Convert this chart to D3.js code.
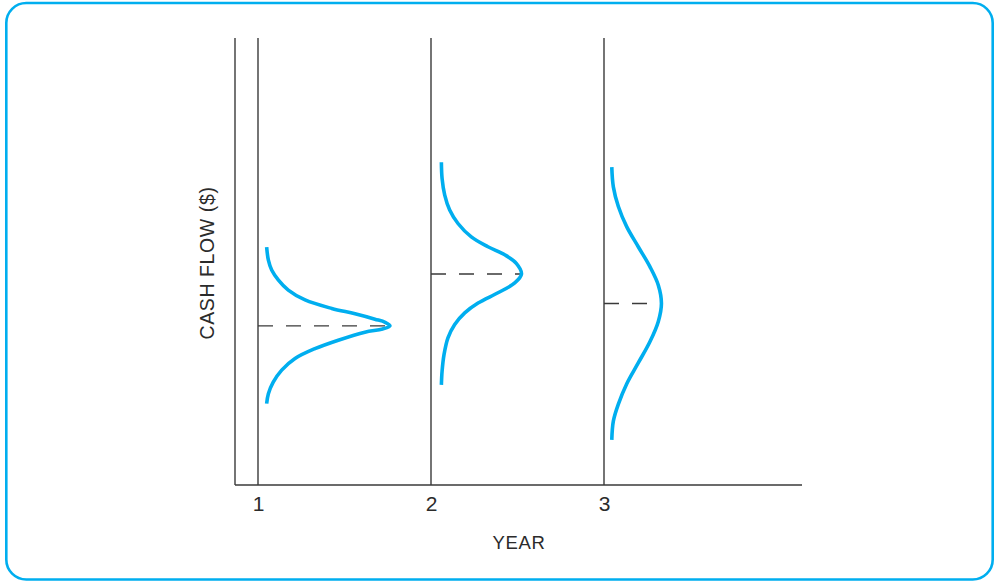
<!DOCTYPE html>
<html>
<head>
<meta charset="utf-8">
<script src="https://cdn.jsdelivr.net/npm/d3@7"></script>
<style>
  html, body { margin: 0; padding: 0; background: #fff; }
  svg { display: block; }
  text { font-family: "Liberation Sans", Arial, sans-serif; fill: #2b2b2b; }
</style>
</head>
<body>
<svg id="chart" width="996" height="583"></svg>
<script>
// ---- data ----
const years = [1, 2, 3];
const yearLabels = ["1", "2", "3"];
const xTitle = "YEAR";
const yTitle = "CASH FLOW ($)";
// expected cash flow for each year (cash-flow axis units, 0-100)
const means = [35.6, 47.2, 40.6];

// distribution curves: cash-flow value and probability density
// (density expressed as a fraction of one year spacing)
const flow1 = [53.2, 50.3, 48.1, 45.9, 43.6, 41.4, 39.5, 38.3, 37.1, 36.4, 35.6, 34.9, 34.2, 32.4, 30.5, 28.3, 25.7, 23.0, 20.4, 18.2];
const dens1 = [0.050, 0.060, 0.079, 0.117, 0.175, 0.272, 0.426, 0.561, 0.676, 0.735, 0.763, 0.720, 0.618, 0.464, 0.329, 0.214, 0.137, 0.088, 0.060, 0.050];

const flow2 = [72.2, 68.6, 64.9, 61.5, 58.5, 55.5, 53.3, 51.5, 49.6, 47.2, 45.2, 43.0, 40.7, 38.5, 35.9, 32.9, 29.1, 25.4, 22.4];
const dens2 = [0.060, 0.064, 0.079, 0.108, 0.156, 0.233, 0.329, 0.426, 0.493, 0.523, 0.484, 0.387, 0.272, 0.195, 0.137, 0.098, 0.075, 0.064, 0.060];

const flow3 = [71.1, 66.7, 62.3, 57.8, 53.3, 48.8, 44.7, 40.6, 36.6, 32.1, 27.3, 22.6, 18.1, 14.3, 10.1];
const dens3 = [0.045, 0.054, 0.083, 0.131, 0.198, 0.266, 0.314, 0.332, 0.314, 0.266, 0.198, 0.131, 0.083, 0.054, 0.045];

const flows = [flow1, flow2, flow3];
const densities = [dens1, dens2, dens3];

// ---- layout ----
const svg = d3.select("#chart");
const plotLeft = 235, plotRight = 802, plotTop = 38, plotBottom = 485;
const blue = "#00aeef";
const ink = "#3a3a3a";

// frame
svg.append("rect")
  .attr("x", 6.3).attr("y", 3)
  .attr("width", 986.4).attr("height", 576.5)
  .attr("rx", 20).attr("ry", 20)
  .attr("fill", "none")
  .attr("stroke", blue)
  .attr("stroke-width", 2.6);

const x = d3.scaleLinear().domain([1, 3]).range([258, 604]);
const y = d3.scaleLinear().domain([0, 100]).range([plotBottom, plotTop]);

// axes lines
svg.append("line")
  .attr("x1", plotLeft).attr("x2", plotLeft)
  .attr("y1", plotTop).attr("y2", plotBottom)
  .attr("stroke", ink).attr("stroke-width", 1.4);
svg.append("line")
  .attr("x1", plotLeft).attr("x2", plotRight)
  .attr("y1", plotBottom).attr("y2", plotBottom)
  .attr("stroke", ink).attr("stroke-width", 1.4);

// year reference lines
svg.selectAll("line.year")
  .data(years)
  .enter().append("line")
  .attr("class", "year")
  .attr("x1", d => x(d)).attr("x2", d => x(d))
  .attr("y1", plotTop).attr("y2", plotBottom)
  .attr("stroke", ink).attr("stroke-width", 1.4);

// x axis tick labels
const xAxis = d3.axisBottom(x)
  .tickValues(years)
  .tickFormat((d, i) => yearLabels[i])
  .tickSize(0)
  .tickPadding(11);
const gx = svg.append("g")
  .attr("transform", `translate(0,${plotBottom})`)
  .call(xAxis);
gx.select(".domain").remove();
gx.selectAll("text")
  .attr("font-size", 21)
  .attr("font-family", "Liberation Sans, Arial, sans-serif")
  .attr("fill", "#2b2b2b");

// axis titles
svg.append("text")
  .attr("x", 519).attr("y", 548.5)
  .attr("text-anchor", "middle")
  .attr("font-size", 18.5)
  .attr("letter-spacing", 0.6)
  .text(xTitle);

svg.append("text")
  .attr("transform", `translate(213.5,263) rotate(-90)`)
  .attr("text-anchor", "middle")
  .attr("font-size", 19.5)
  .attr("letter-spacing", 0.6)
  .text(yTitle);

// dashed mean lines and distribution curves
const line = d3.line()
  .x(p => x(p.year + p.d))
  .y(p => y(p.cf))
  .curve(d3.curveCatmullRom.alpha(0.5));

years.forEach((yr, i) => {
  const pts = flows[i].map((cf, j) => ({ year: yr, cf: cf, d: densities[i][j] }));
  const peak = d3.max(densities[i]);
  svg.append("line")
    .attr("x1", x(yr)).attr("x2", x(yr + peak))
    .attr("y1", y(means[i])).attr("y2", y(means[i]))
    .attr("stroke", ink).attr("stroke-width", 1.4)
    .attr("stroke-dasharray", "15,13");
  svg.append("path")
    .datum(pts)
    .attr("d", line)
    .attr("fill", "none")
    .attr("stroke", blue)
    .attr("stroke-width", 3.6)
    .attr("stroke-linecap", "butt")
    .attr("stroke-linejoin", "round");
});
</script>
</body>
</html>
